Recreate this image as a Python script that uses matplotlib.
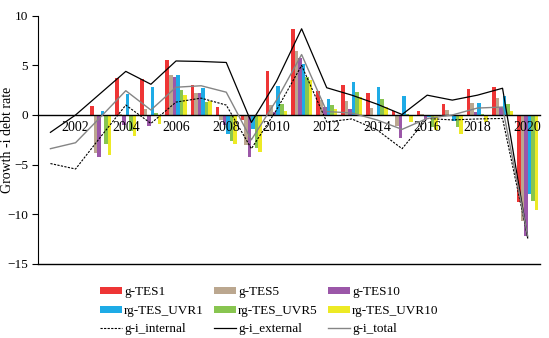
import numpy as np
import matplotlib
matplotlib.use("Agg")
import matplotlib.pyplot as plt

plt.rcParams['font.family'] = ['Liberation Serif', 'DejaVu Serif']

years = list(range(2001, 2021))
bar_years = list(range(2003, 2021))

# bar series (2003-2020)
g_tes1 = [0.9, 3.7, 3.6, 5.5, 3.0, 0.85, -0.5, 4.4, 8.7, 2.45, 3.0, 2.25, 0.4, 0.4, 1.1, 2.6, 2.8, -8.8]
g_tes5 = [-3.8, 0.05, 0.6, 4.0, 2.2, -0.5, -3.0, 1.0, 6.5, 1.5, 1.45, 0.75, -1.1, 0.1, 0.5, 1.2, 1.7, -10.7]
g_tes10 = [-4.2, -1.0, -1.1, 3.8, 2.25, -1.0, -4.2, 0.3, 5.7, 0.85, 0.6, -0.15, -2.35, -0.5, -0.1, 0.3, 0.85, -12.2]
rg_uvr1 = [0.4, 2.1, 2.8, 4.0, 2.75, -1.9, -1.4, 2.9, 5.1, 1.6, 3.3, 2.8, 1.9, -0.2, -0.6, 1.2, 1.9, -8.0]
rg_uvr5 = [-2.9, -1.6, 0.2, 2.5, 1.35, -2.6, -3.3, 1.1, 3.8, 1.0, 2.35, 1.6, 0.15, -1.2, -1.2, 0.05, 1.1, -8.7]
rg_uvr10 = [-4.0, -2.1, -0.9, 2.0, 1.45, -2.9, -3.7, 0.4, 3.5, 0.6, 1.85, 0.85, -0.75, -1.5, -1.9, -0.7, 0.4, -9.6]

# line series (2001-2020)
gi_internal = [-4.9, -5.45, -2.2, 1.0, -0.85, 1.3, 1.7, 1.0, -3.4, 0.5, 5.0, -0.7, -0.4, -1.5, -3.4, -0.35, -0.5, -0.4, -0.35, -12.3]
gi_external = [-1.75, 0.0, 2.2, 4.4, 3.1, 5.45, 5.4, 5.3, -0.75, 3.4, 8.7, 2.75, 2.0, 1.1, 0.05, 2.0, 1.5, 2.0, 2.7, -12.4]
gi_total = [-3.4, -2.8, -0.2, 2.45, 0.5, 2.8, 2.95, 2.3, -2.5, 1.5, 6.1, 0.35, 0.2, -0.5, -1.45, -0.35, 0.0, 0.7, 0.8, -12.2]

bar_series = [
    ("g-TES1", g_tes1, "#EE3535"),
    ("g-TES5", g_tes5, "#BBA78F"),
    ("g-TES10", g_tes10, "#9B57A8"),
    ("rg-TES_UVR1", rg_uvr1, "#1EABE6"),
    ("rg-TES_UVR5", rg_uvr5, "#88C550"),
    ("rg-TES_UVR10", rg_uvr10, "#EDEA25"),
]

fig = plt.figure(figsize=(5.49, 3.38), dpi=100)
ax = fig.add_axes([0.069, 0.220, 0.915, 0.733])
ax.set_axisbelow(False)

x_all = np.arange(len(years))
x_bar = np.array([years.index(y) for y in bar_years])
w = 0.14
handles = {}
for i, (name, vals, col) in enumerate(bar_series):
    h = ax.bar(x_bar + (i - 2.5) * w, vals, width=w, color=col, label=name, zorder=2)
    handles[name] = h

l1, = ax.plot(x_all, gi_internal, color="black", lw=0.8, ls=(0, (2, 1.2)), label="g-i_internal", zorder=3)
l2, = ax.plot(x_all, gi_external, color="black", lw=0.9, label="g-i_external", zorder=3)
l3, = ax.plot(x_all, gi_total, color="#858585", lw=1.0, label="g-i_total", zorder=3)

ax.set_xlim(-0.5, len(years) - 0.5)
ax.set_ylim(-15, 10)
ax.set_yticks([-15, -10, -5, 0, 5, 10])
ax.tick_params(axis='y', labelsize=9.5, length=4, width=0.8, pad=3)
ax.set_xticks([years.index(y) for y in years if y % 2 == 0])
ax.set_xticklabels([str(y) for y in years if y % 2 == 0], fontsize=10)
ax.tick_params(axis='x', length=0, pad=4)

ax.spines['top'].set_visible(False)
ax.spines['right'].set_visible(False)
ax.spines['bottom'].set_position(('data', 0))
ax.spines['bottom'].set_linewidth(1.0)
ax.spines['left'].set_linewidth(0.8)
ax.axhline(-15, color="black", lw=1.0, clip_on=False)

ax.set_ylabel("Growth -i debt rate", fontsize=10)
ax.yaxis.set_label_coords(-0.047, 0.5)

order = [handles["g-TES1"], handles["rg-TES_UVR1"], l1,
         handles["g-TES5"], handles["rg-TES_UVR5"], l2,
         handles["g-TES10"], handles["rg-TES_UVR10"], l3]
labels = ["g-TES1", "rg-TES_UVR1", "g-i_internal",
          "g-TES5", "rg-TES_UVR5", "g-i_external",
          "g-TES10", "rg-TES_UVR10", "g-i_total"]
fig.legend(order, labels, ncol=3, loc='upper left', bbox_to_anchor=(0.173, 0.168),
           frameon=False, fontsize=9.5, handlelength=1.65, handleheight=0.45,
           handletextpad=0.15, columnspacing=0.8, labelspacing=0.48, borderaxespad=0)

fig.savefig("out.png", dpi=100)
